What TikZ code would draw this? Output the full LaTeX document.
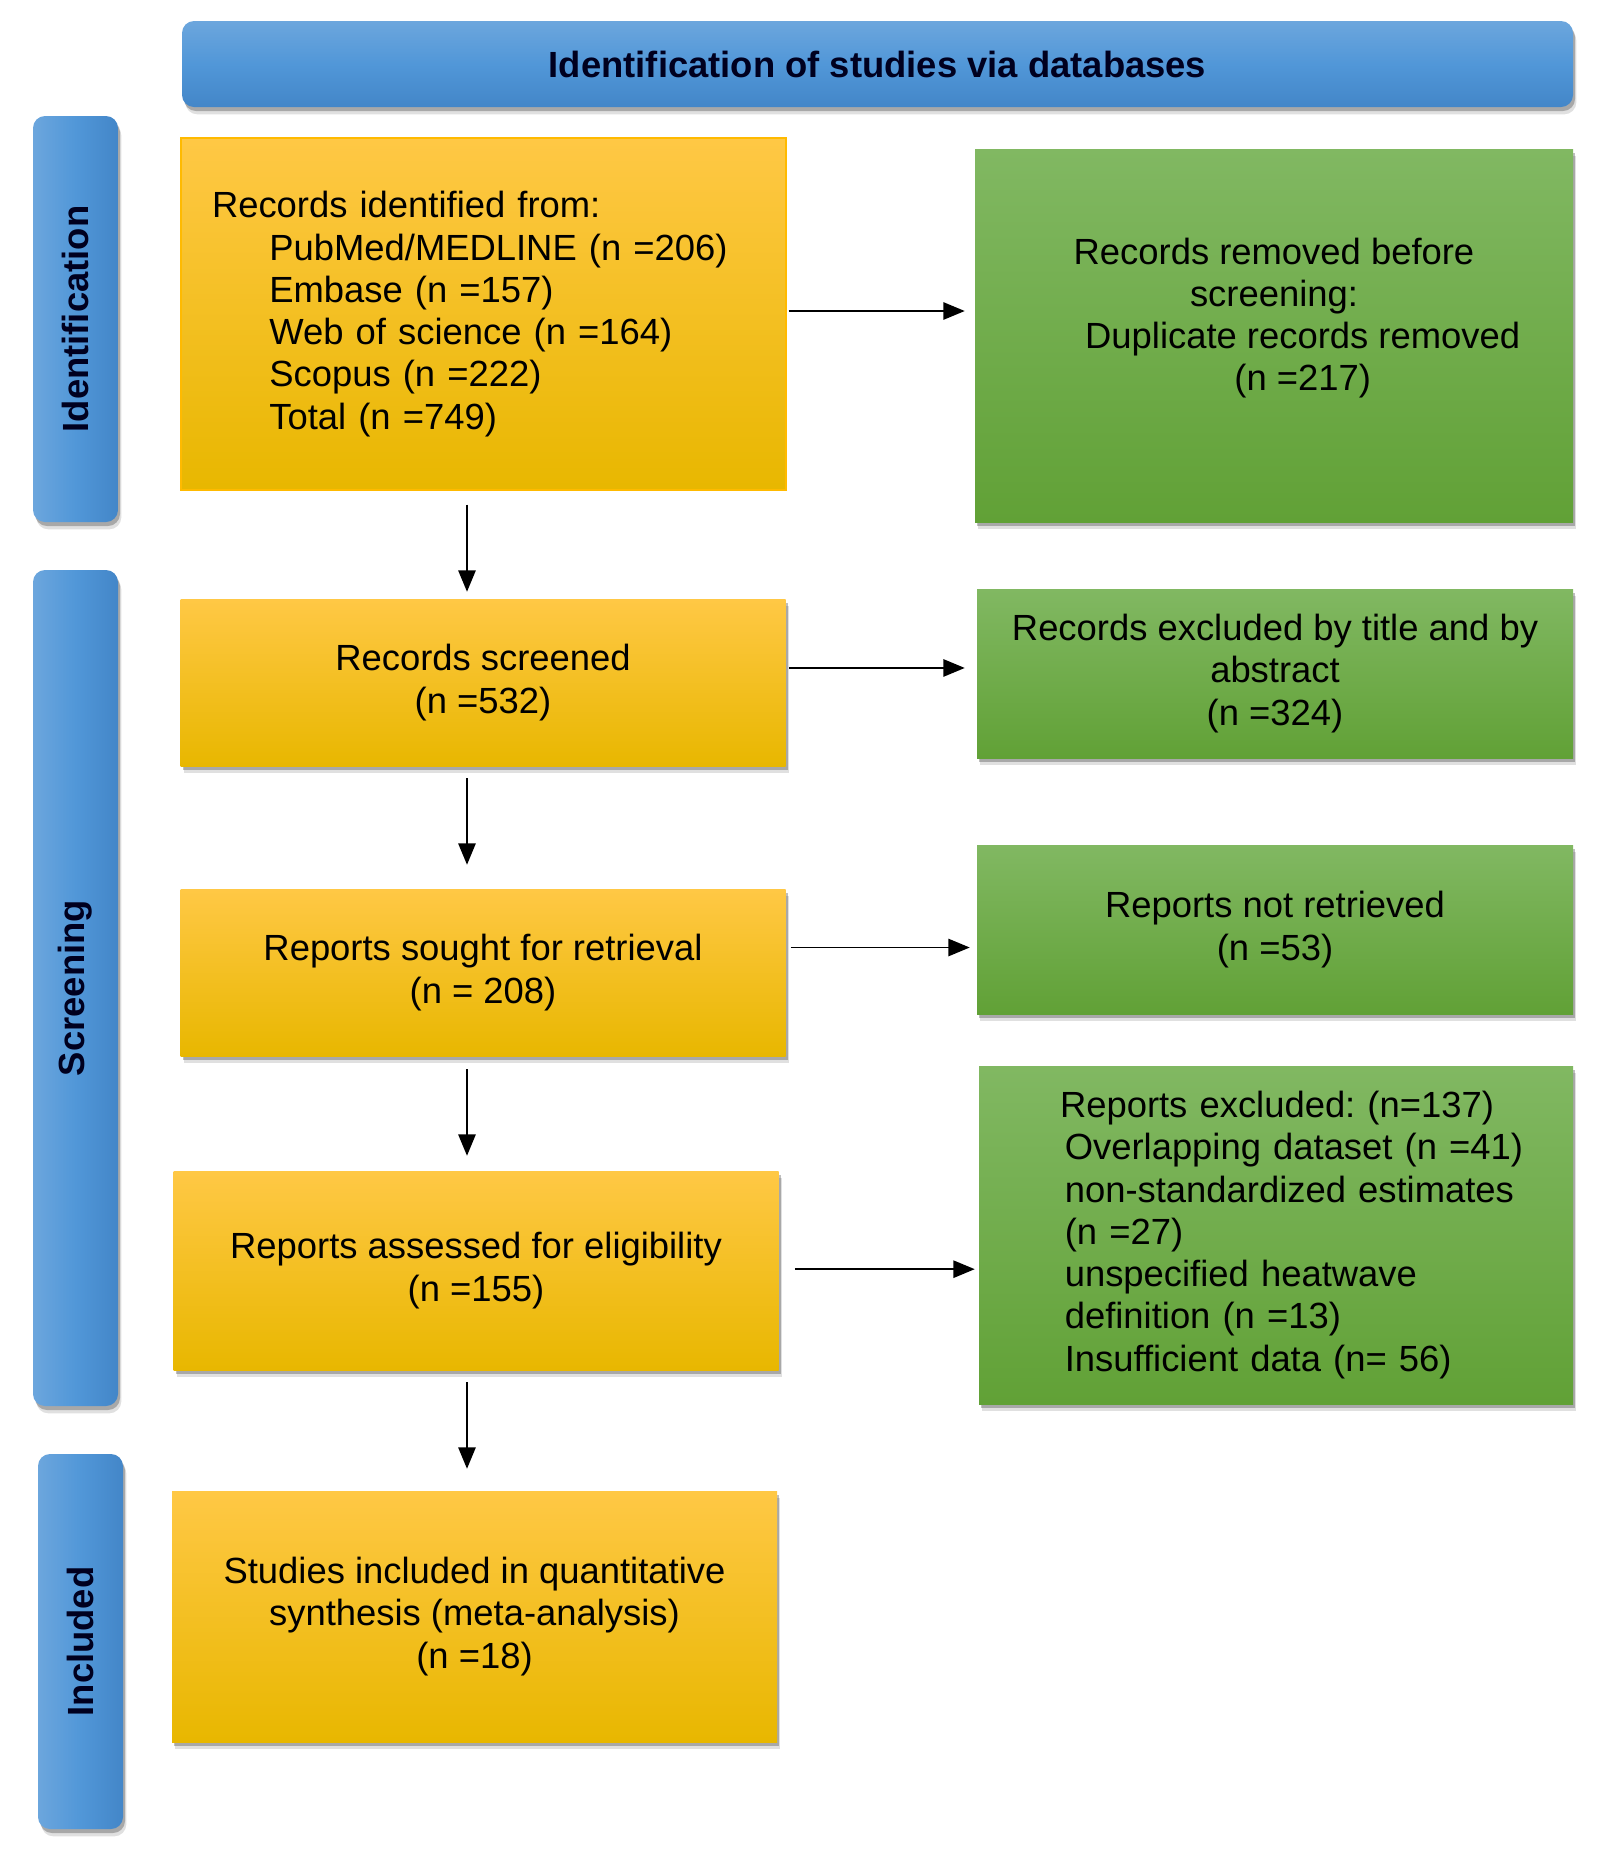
\documentclass[tikz,border=0pt]{standalone}
\usepackage{fontspec}
\setmainfont{Liberation Sans}
\usepackage{graphicx}
\usetikzlibrary{arrows.meta,shadows}
\definecolor{barlight}{HTML}{6CA6DD}
\definecolor{barmid}{HTML}{5197D8}
\definecolor{bardark}{HTML}{4386C8}
\definecolor{yeltop}{HTML}{FFC845}
\definecolor{yelmid}{HTML}{FFC000}
\definecolor{yelbot}{HTML}{E8B700}
\definecolor{grntop}{HTML}{81B862}
\definecolor{grnmid}{HTML}{6CAE3F}
\definecolor{grnbot}{HTML}{61A136}
\frenchspacing

\begin{document}
\begin{tikzpicture}[x=0.75pt,y=-0.75pt,
  every node/.style={font=\fontsize{27.3}{31.7}\selectfont, inner sep=0pt},
  boxshadow/.style={drop shadow={shadow xshift=1.5pt,shadow yshift=-3pt,opacity=0.25,fill=black},
                    drop shadow={shadow xshift=2.5pt,shadow yshift=-5.5pt,opacity=0.12,fill=black}},
  bluebar/.style={rounded corners=9pt, font=\fontsize{27.3}{31.7}\selectfont\bfseries, text=black!88!blue, boxshadow},
  sidebar/.style={bluebar, left color=barlight, right color=bardark, middle color=barmid, minimum width=63.75pt},
  yfill/.style={top color=yeltop, middle color=yelmid, bottom color=yelbot, align=center},
  ybox/.style={yfill, minimum width=453.75pt, boxshadow},
  gbox/.style={top color=grntop, middle color=grnmid, bottom color=grnbot, minimum width=447pt, align=center, boxshadow},
  flowarrow/.style={line width=1.2pt, -{Triangle[length=16pt,width=13pt]}}
]
\useasboundingbox (0,0) rectangle (1605,1868);

\node[bluebar, top color=barlight, bottom color=bardark, middle color=barmid, minimum width=1043.25pt, minimum height=64.5pt] (head) at (877.5,64) {Identification of studies via databases};
\node[sidebar, minimum height=304.5pt] (idbar) at (75.5,319) {\rotatebox{90}{Identification}};
\node[sidebar, minimum height=627pt] (scrbar) at (75.5,988) {\rotatebox{90}{Screening}};
\node[sidebar, minimum height=281.25pt] (incbar) at (80.5,1641.5) {\rotatebox{90}{Included}};

\node[yfill, draw=yelmid!90!orange, line width=0.8pt, minimum height=264pt, align=left, text width=453.75pt] (recid) at (483.5,314)
  {\hspace*{23.25pt}Records identified from:\\
   \hspace*{66.25pt}PubMed/MEDLINE (n =206)\\
   \hspace*{66.25pt}Embase (n =157)\\
   \hspace*{66.25pt}Web of science (n =164)\\
   \hspace*{66.25pt}Scopus (n =222)\\
   \hspace*{66.25pt}Total (n =749)};
\node[ybox, minimum height=125.25pt] (scr) at (483,682.5) {Records screened\\(n =532)};
\node[ybox, minimum height=125.25pt] (sought) at (483,972.5) {Reports sought for retrieval\\(n = 208)};
\node[ybox, minimum height=149.25pt] (assess) at (476,1270.5) {Reports assessed for eligibility\\(n =155)};
\node[ybox, minimum height=188.25pt] (incl) at (474.5,1616.5) {Studies included in quantitative\\synthesis (meta-analysis)\\(n =18)};

\node[gbox, minimum width=448.5pt, minimum height=279.75pt] (rem) at (1274,335.5)
  {Records removed before\\screening:\\\hspace*{43pt}Duplicate records removed\\\hspace*{43pt}(n =217)\\\mbox{}};
\node[gbox, minimum height=126.75pt] (excl) at (1275,673.5) {Records excluded by title and by\\abstract\\(n =324)};
\node[gbox, minimum height=126.75pt] (notret) at (1275,929.5) {Reports not retrieved\\(n =53)};
\node[gbox, minimum width=445.5pt, minimum height=253.5pt, align=left, text width=445.5pt] (repex) at (1276,1235)
  {\hspace*{60.75pt}Reports excluded: (n=137)\\
   \hspace*{64.35pt}Overlapping dataset (n =41)\\
   \hspace*{64.35pt}non-standardized estimates\\
   \hspace*{64.35pt}(n =27)\\
   \hspace*{64.35pt}unspecified heatwave\\
   \hspace*{64.35pt}definition (n =13)\\
   \hspace*{64.35pt}Insufficient data (n= 56)};

\coordinate (spine) at (467,0);
\draw[flowarrow, shorten <=10.5pt, shorten >=5.25pt] (recid.south -| spine) -- (scr.north -| spine);
\draw[flowarrow, shorten <=9pt, shorten >=18pt] (scr.south -| spine) -- (sought.north -| spine);
\draw[flowarrow, shorten <=9.75pt, shorten >=11.25pt] (sought.south -| spine) -- (assess.north -| spine);
\draw[flowarrow, shorten <=9pt, shorten >=16.5pt] (assess.south -| spine) -- (incl.north -| spine);

\draw[flowarrow, shorten <=1.5pt, shorten >=7.5pt] ([yshift=2.25pt]recid.east) -- ([yshift=2.25pt]recid.east -| rem.west);
\draw[flowarrow, shorten <=2.25pt, shorten >=9pt] ([yshift=10.9pt]scr.east) -- ([yshift=10.9pt]scr.east -| excl.west);
\draw[flowarrow, shorten <=3.75pt, shorten >=5.25pt] ([yshift=18.75pt]sought.east) -- ([yshift=18.75pt]sought.east -| notret.west);
\draw[flowarrow, shorten <=12pt, shorten >=3pt] ([yshift=1pt]assess.east) -- ([yshift=1pt]assess.east -| repex.west);
\end{tikzpicture}
\end{document}
